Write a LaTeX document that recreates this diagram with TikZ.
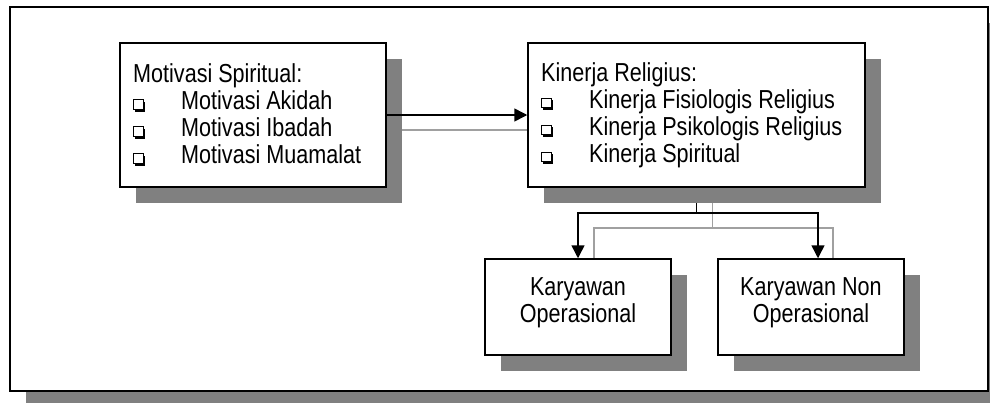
\documentclass[tikz,border=0pt]{standalone}
\usepackage{fontspec}
\setmainfont[FakeStretch=0.83]{Liberation Sans}
\usetikzlibrary{arrows.meta,shadows,backgrounds}
\definecolor{shadowgray}{HTML}{808080}
\definecolor{linegray}{HTML}{A0A0A0}
\pgfdeclarelayer{bottom}
\pgfsetlayers{bottom,background,main}
\newcommand\chkbox{\tikz[baseline=0pt]{\fill[black] (2pt,-2pt) rectangle (12pt,8pt);\draw[fill=white,line width=1pt] (0.5pt,0.5pt) rectangle (10pt,10pt);}}
\newcommand\itm[1]{\makebox[48pt][l]{\chkbox}#1}
\tikzset{
  boxst/.style={draw, line width=1.5pt, fill=white, inner sep=0pt,
    drop shadow={shadow xshift=16pt, shadow yshift=-16pt, fill=shadowgray, opacity=1}},
  txt/.style={inner sep=0pt, font=\fontsize{26}{27}\selectfont},
  blk/.style={draw=black, line width=1.5pt},
  gry/.style={draw=linegray, line width=1.5pt},
  arr/.style={-{Triangle[length=13pt,width=13pt]}}
}
\begin{document}
\begin{tikzpicture}[x=1pt,y=-1pt]
\useasboundingbox (0,0) rectangle (990,402);
\clip (0,0) rectangle (990,402);
\begin{pgfonlayer}{bottom}
  \fill[shadowgray] (26,23) rectangle (1010,410);
  \draw[line width=2pt, fill=white] (10,7) rectangle (988,391);
\end{pgfonlayer}
\node[boxst, minimum width=266pt, minimum height=144pt] (ms) at (253,115) {};
\node[boxst, minimum width=337pt, minimum height=144pt] (kr) at (696.5,115) {};
\node[boxst, minimum width=186pt, minimum height=96pt] (ko) at (578,307) {};
\node[boxst, minimum width=186pt, minimum height=96pt] (kno) at (811,307) {};
\node[txt, anchor=west, align=left] (mst) at (133,115) {Motivasi Spiritual:\\\itm{Motivasi Akidah}\\\itm{Motivasi Ibadah}\\\itm{Motivasi Muamalat}};
\node[txt, anchor=west, align=left] (krt) at (541,115) {Kinerja Religius:\\\itm{Kinerja Fisiologis Religius}\\\itm{Kinerja Psikologis Religius}\\\itm{Kinerja Spiritual}};
\node[txt, align=center] (kot) at (578,303) {Karyawan\\Operasional};
\node[txt, align=center] (knot) at (811,303) {Karyawan Non\\Operasional};
\begin{pgfonlayer}{background}
  \draw[gry] ([yshift=-15pt]ms.east) -- ([yshift=-15pt]kr.west);
  \draw[gry] ([xshift=16pt]kr.south) -- ++(0,40) coordinate (g);
  \draw[gry] (g) -| ([xshift=16pt]ko.north);
  \draw[gry] (g) -| ([xshift=22pt]kno.north);
  \draw[blk] (kr.south) -- ++(0,25) coordinate (j);
  \draw[blk,arr] (j) -| (ko.north);
  \draw[blk,arr] (j) -| ([xshift=7pt]kno.north);
\end{pgfonlayer}
\draw[blk,arr] (ms.east) -- (kr.west);
\end{tikzpicture}
\end{document}
